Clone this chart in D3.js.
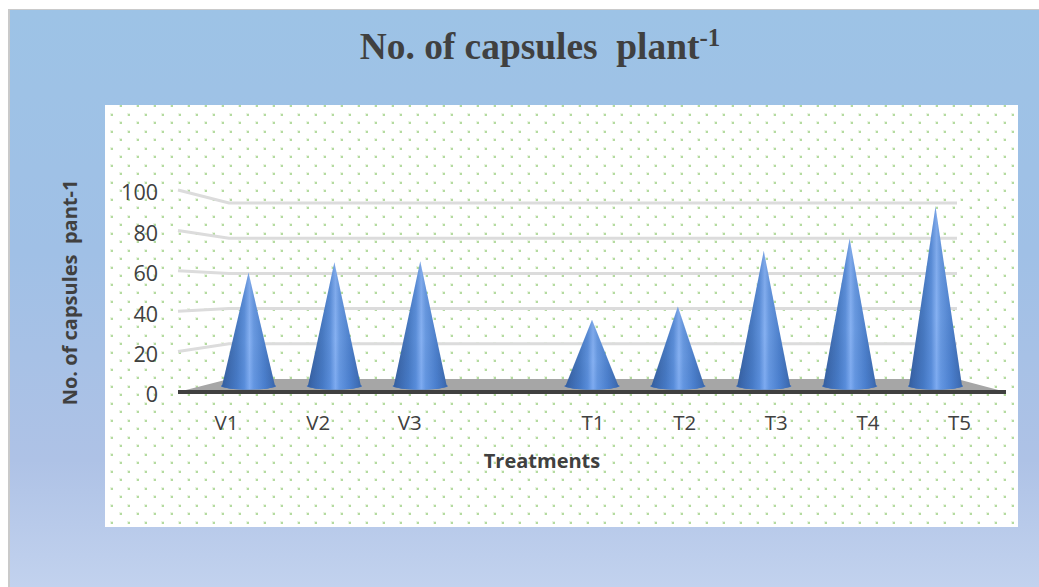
<!DOCTYPE html>
<html><head><meta charset="utf-8">
<script src="https://cdnjs.cloudflare.com/ajax/libs/d3/7.8.5/d3.min.js"></script>
<style>html,body{margin:0;padding:0;background:#fff;overflow:hidden}svg{display:block}</style>
</head><body><svg id="c" width="1039" height="587"></svg>
<script>
const categories = ["V1","V2","V3","","T1","T2","T3","T4","T5"];
const values = [60,65.5,66,null,35,42,71.5,78,95];
const tickValues = [0,20,40,60,80,100];
const titleText = "No. of capsules  plant";
const titleSup = "-1";
const yTitle = "No. of capsules  pant-1";
const xTitle = "Treatments";

const svg = d3.select("#c");
const defs = svg.append("defs");

const bg = defs.append("linearGradient").attr("id","bg").attr("x1",0).attr("y1",0).attr("x2",0).attr("y2",1);
[[0,"#9dc3e6"],[0.42,"#a0c0e6"],[0.78,"#aec2e6"],[1,"#c2d2ee"]].forEach(s=>bg.append("stop").attr("offset",s[0]).attr("stop-color",s[1]));

const pat = defs.append("pattern").attr("id","dots").attr("patternUnits","userSpaceOnUse")
  .attr("width",17).attr("height",17).attr("x",110).attr("y",113);
[[1,1],[10,9]].forEach(p=>{
  pat.append("rect").attr("x",p[0]-1).attr("y",p[1]-1).attr("width",3).attr("height",3).attr("fill","#eaf4e2").attr("shape-rendering","crispEdges");
  pat.append("rect").attr("x",p[0]).attr("y",p[1]).attr("width",2).attr("height",2).attr("fill","#b4dba0").attr("shape-rendering","crispEdges");
});

const cone = defs.append("linearGradient").attr("id","cone").attr("x1",0).attr("x2",1).attr("y1",0).attr("y2",0);
[[0,"#365c95"],[0.08,"#3c66a6"],[0.28,"#4a7cc4"],[0.42,"#5f92dc"],[0.52,"#8ab5f6"],[0.6,"#6c9de4"],[0.8,"#4f82cd"],[0.94,"#426fb3"],[1,"#3a64a2"]]
  .forEach(s=>cone.append("stop").attr("offset",s[0]).attr("stop-color",s[1]));
const coneV = defs.append("linearGradient").attr("id","coneShade").attr("x1",0).attr("x2",0).attr("y1",0).attr("y2",1);
[[0,"#1c3f80",0.12],[0.6,"#1c3f80",0.04],[1,"#2f6fd8",0.15]].forEach(s=>coneV.append("stop").attr("offset",s[0]).attr("stop-color",s[1]).attr("stop-opacity",s[2]));

svg.append("rect").attr("x",8).attr("y",9).attr("width",1031).attr("height",578).attr("fill","#bdbdbd").attr("opacity",.8);
svg.append("rect").attr("x",10).attr("y",10).attr("width",1029).attr("height",577).attr("fill","url(#bg)");
svg.append("rect").attr("x",105).attr("y",105).attr("width",913).attr("height",422).attr("fill","#fff");
svg.append("rect").attr("x",105).attr("y",105).attr("width",913).attr("height",422).attr("fill","url(#dots)");

const yFront = d3.scaleLinear().domain([0,100]).range([392,190]);
const yBack  = d3.scaleLinear().domain([0,100]).range([379,203]);
const yMid   = d3.scaleLinear().domain([0,100]).range([386,197]);
const xCone  = d3.scalePoint().domain(categories).range([248.5,935.5]);
const xLabel = d3.scalePoint().domain(categories).range([226,959]);
const xWall0 = 229, xWall1 = 957, xFront0 = 178, xFront1 = 1006;

// grid
const grid = svg.append("g").attr("fill","none").attr("stroke","#dcdcdc").attr("stroke-width",3);
tickValues.filter(d=>d>0).forEach(d=>{
  grid.append("path").attr("d",d3.line()([[xFront0,yFront(d)],[xWall0,yBack(d)],[xWall1,yBack(d)]]));
});

// floor
svg.append("path").attr("d",d3.line()([[xFront0,yFront(0)],[xWall0,yBack(0)],[xWall1,yBack(0)],[xFront1,yFront(0)]])+"Z").attr("fill","#a6a6a6");
svg.append("path").attr("d",d3.line()([[xFront0,yFront(0)],[xFront1,yFront(0)]])).attr("stroke","#404040").attr("stroke-width",4);

// cones
const halfW = 26.5, rY = 3.4;
const data = categories.map((c,i)=>({c,v:values[i]})).filter(d=>d.v!=null);
const g = svg.append("g").selectAll("g").data(data).join("g");
const conePath = d=>{
  const x=xCone(d.c), b=yMid(0), t=yMid(d.v);
  return `M${x},${t}L${x+halfW},${b}A${halfW},${rY} 0 0 1 ${x-halfW},${b}Z`;
};
g.append("ellipse").attr("cx",d=>xCone(d.c)).attr("cy",yMid(0)).attr("rx",halfW+1.2).attr("ry",rY)
  .attr("fill","#3f72c0");
g.append("path").attr("d",conePath).attr("fill","url(#cone)");
g.append("path").attr("d",conePath).attr("fill","url(#coneShade)");

// axes
const axisY = d3.axisLeft(yFront).tickValues(tickValues).tickSize(0).tickPadding(0);
const ay = svg.append("g").attr("transform","translate(158,3)").call(axisY);
ay.select(".domain").remove();
ay.selectAll("text").attr("fill","#404040").attr("font-family","'Open Sans'").attr("font-size",21.5);

const axisX = d3.axisBottom(xLabel).tickValues(categories.filter(c=>c)).tickSize(0).tickPadding(0);
const ax = svg.append("g").attr("transform","translate(0,415)").call(axisX);
ax.select(".domain").remove();
ax.selectAll("text").attr("fill","#404040").attr("font-family","'Open Sans'").attr("font-size",20.5);

// titles
const t = svg.append("text").attr("x",540).attr("y",59).attr("text-anchor","middle")
  .attr("font-family","'Liberation Serif'").attr("font-weight","bold").attr("font-size",37.4).attr("fill","#404040").style("white-space","pre");
t.append("tspan").text(titleText);
t.append("tspan").attr("dy",-13).attr("font-size",25).text(titleSup);

svg.append("text").attr("x",542).attr("y",468).attr("text-anchor","middle")
  .attr("font-family","'Open Sans'").attr("font-weight","bold").attr("font-size",20).attr("fill","#404040").text(xTitle);
svg.append("text").attr("transform","translate(77,292.5) rotate(-90)").attr("text-anchor","middle")
  .attr("font-family","'Open Sans'").attr("font-weight","bold").attr("font-size",20).attr("fill","#404040").style("white-space","pre").text(yTitle);
</script></body></html>
